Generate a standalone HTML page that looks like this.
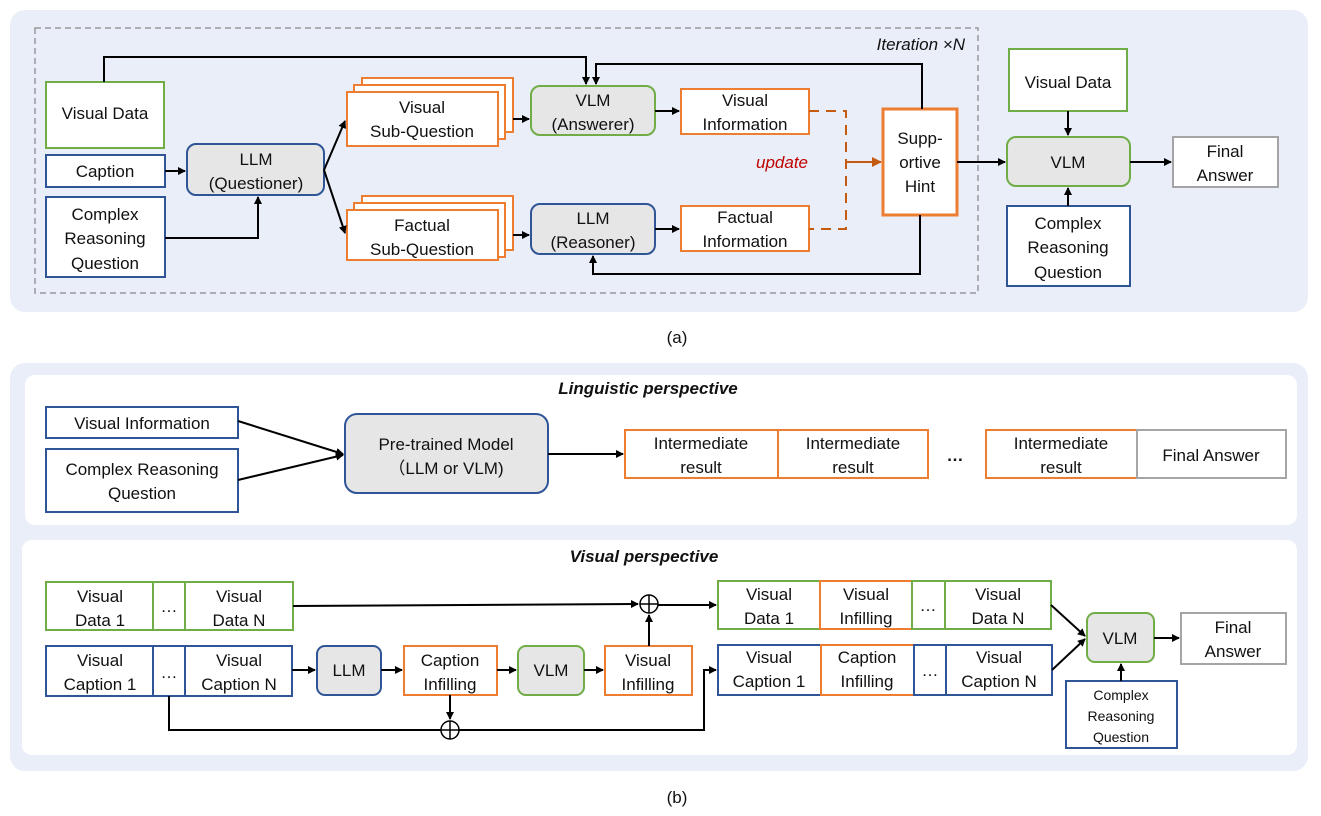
<!DOCTYPE html>
<html><head><meta charset="utf-8"><style>body{margin:0;background:#fff}svg{display:block}text{font-family:"Liberation Sans",Arial,sans-serif;font-size:17px;fill:#111;text-anchor:middle}</style></head><body>
<svg width="1321" height="816" viewBox="0 0 1321 816" xmlns="http://www.w3.org/2000/svg">
<defs><marker id="a" markerWidth="8" markerHeight="8" refX="7" refY="4" orient="auto" markerUnits="userSpaceOnUse"><path d="M0,0L8,4L0,8z" fill="#000"/></marker>
<marker id="o" markerWidth="10" markerHeight="10" refX="9" refY="5" orient="auto" markerUnits="userSpaceOnUse"><path d="M0,0L10,5L0,10z" fill="#c55a11"/></marker></defs>
<rect x="10" y="10" width="1298" height="302" rx="15" fill="#e9eef8"/>
<rect x="35" y="28" width="943" height="265" fill="none" stroke="#999" stroke-width="1.5" stroke-dasharray="6,4"/>
<text x="965" y="50" style="font-style:italic;text-anchor:end">Iteration ×N</text>
<g stroke-width="2" fill="#fff">
<rect x="46" y="82" width="118" height="66" stroke="#70ad47"/>
<rect x="46" y="155" width="119" height="32" stroke="#2f5597"/>
<rect x="46" y="197" width="119" height="80" stroke="#2f5597"/>
<rect x="187" y="144" width="137" height="51" rx="9" fill="#e7e6e6" stroke="#2f5597"/>
<rect x="362" y="78" width="151" height="54" stroke="#ed7d31"/>
<rect x="354" y="85" width="151" height="54" stroke="#ed7d31"/>
<rect x="347" y="92" width="151" height="54" stroke="#ed7d31"/>
<rect x="362" y="196" width="151" height="54" stroke="#ed7d31"/>
<rect x="354" y="203" width="151" height="54" stroke="#ed7d31"/>
<rect x="347" y="210" width="151" height="50" stroke="#ed7d31"/>
<rect x="531" y="86" width="124" height="49" rx="9" fill="#e7e6e6" stroke="#70ad47"/>
<rect x="531" y="204" width="124" height="50" rx="9" fill="#e7e6e6" stroke="#2f5597"/>
<rect x="681" y="89" width="128" height="45" stroke="#ed7d31"/>
<rect x="681" y="206" width="128" height="45" stroke="#ed7d31"/>
<rect x="883" y="109" width="74" height="106" stroke="#ed7d31" stroke-width="3"/>
<rect x="1009" y="49" width="118" height="62" stroke="#70ad47"/>
<rect x="1007" y="137" width="123" height="49" rx="9" fill="#e7e6e6" stroke="#70ad47"/>
<rect x="1007" y="206" width="123" height="80" stroke="#2f5597"/>
<rect x="1173" y="137" width="105" height="50" stroke="#a5a5a5"/>
</g>
<g fill="none" stroke="#000" stroke-width="2">
<path d="M104,82V57H586V84" marker-end="url(#a)"/>
<path d="M922,109V64H596V84" marker-end="url(#a)"/>
<path d="M920,215V274H593V256" marker-end="url(#a)"/>
<path d="M165,171H185" marker-end="url(#a)"/>
<path d="M165,238H258V197" marker-end="url(#a)"/>
<path d="M324,170L345,121" marker-end="url(#a)"/>
<path d="M324,170L345,233" marker-end="url(#a)"/>
<path d="M513,119H529" marker-end="url(#a)"/>
<path d="M513,235H529" marker-end="url(#a)"/>
<path d="M655,111H679" marker-end="url(#a)"/>
<path d="M655,229H679" marker-end="url(#a)"/>
<path d="M957,162H1005" marker-end="url(#a)"/>
<path d="M1068,111V135" marker-end="url(#a)"/>
<path d="M1068,206V188" marker-end="url(#a)"/>
<path d="M1130,162H1171" marker-end="url(#a)"/>
</g>
<path d="M809,111H846V229H809" fill="none" stroke="#c55a11" stroke-width="2" stroke-dasharray="10,7"/>
<path d="M846,162H881" stroke="#c55a11" stroke-width="2" marker-end="url(#o)"/>
<text x="808" y="168" style="fill:#c00000;font-style:italic;text-anchor:end">update</text>
<text x="105" y="119">Visual Data</text>
<text x="105" y="177">Caption</text>
<text x="105" y="220">Complex</text><text x="105" y="244">Reasoning</text><text x="105" y="269">Question</text>
<text x="256" y="165">LLM</text><text x="256" y="189">(Questioner)</text>
<text x="422" y="113">Visual</text><text x="422" y="137">Sub-Question</text>
<text x="422" y="231">Factual</text><text x="422" y="255">Sub-Question</text>
<text x="593" y="106">VLM</text><text x="593" y="130">(Answerer)</text>
<text x="593" y="224">LLM</text><text x="593" y="248">(Reasoner)</text>
<text x="745" y="106">Visual</text><text x="745" y="130">Information</text>
<text x="745" y="223">Factual</text><text x="745" y="247">Information</text>
<text x="920" y="144">Supp-</text><text x="920" y="168">ortive</text><text x="920" y="192">Hint</text>
<text x="1068" y="88">Visual Data</text>
<text x="1068" y="168">VLM</text>
<text x="1068" y="229">Complex</text><text x="1068" y="253">Reasoning</text><text x="1068" y="278">Question</text>
<text x="1225" y="157">Final</text><text x="1225" y="181">Answer</text>
<text x="677" y="343">(a)</text>

<rect x="10" y="363" width="1298" height="408" rx="15" fill="#e9eef8"/>
<rect x="25" y="375" width="1272" height="150" rx="10" fill="#fff"/>
<rect x="22" y="540" width="1275" height="215" rx="10" fill="#fff"/>
<text x="648" y="394" style="font-weight:bold;font-style:italic">Linguistic perspective</text>
<text x="644" y="562" style="font-weight:bold;font-style:italic">Visual perspective</text>
<g stroke-width="2" fill="#fff">
<rect x="46" y="407" width="192" height="31" stroke="#2f5597"/>
<rect x="46" y="449" width="192" height="63" stroke="#2f5597"/>
<rect x="345" y="414" width="203" height="79" rx="12" fill="#e7e6e6" stroke="#2f5597"/>
<rect x="625" y="430" width="153" height="48" stroke="#ed7d31"/>
<rect x="778" y="430" width="150" height="48" stroke="#ed7d31"/>
<rect x="986" y="430" width="151" height="48" stroke="#ed7d31"/>
<rect x="1137" y="430" width="149" height="48" stroke="#a5a5a5"/>
<rect x="46" y="582" width="107" height="48" stroke="#70ad47"/>
<rect x="153" y="582" width="32" height="48" stroke="#70ad47"/>
<rect x="185" y="582" width="108" height="48" stroke="#70ad47"/>
<rect x="46" y="646" width="107" height="50" stroke="#2f5597"/>
<rect x="153" y="646" width="32" height="50" stroke="#2f5597"/>
<rect x="185" y="646" width="107" height="50" stroke="#2f5597"/>
<rect x="317" y="646" width="64" height="49" rx="8" fill="#e7e6e6" stroke="#2f5597"/>
<rect x="404" y="646" width="93" height="49" stroke="#ed7d31"/>
<rect x="518" y="646" width="66" height="49" rx="8" fill="#e7e6e6" stroke="#70ad47"/>
<rect x="605" y="646" width="87" height="49" stroke="#ed7d31"/>
<rect x="718" y="581" width="102" height="48" stroke="#70ad47"/>
<rect x="820" y="581" width="92" height="48" stroke="#ed7d31"/>
<rect x="912" y="581" width="33" height="48" stroke="#70ad47"/>
<rect x="945" y="581" width="106" height="48" stroke="#70ad47"/>
<rect x="718" y="645" width="103" height="50" stroke="#2f5597"/>
<rect x="821" y="645" width="93" height="50" stroke="#ed7d31"/>
<rect x="914" y="645" width="32" height="50" stroke="#2f5597"/>
<rect x="946" y="645" width="106" height="50" stroke="#2f5597"/>
<rect x="1087" y="613" width="67" height="49" rx="8" fill="#e7e6e6" stroke="#70ad47"/>
<rect x="1181" y="613" width="105" height="51" stroke="#a5a5a5"/>
<rect x="1066" y="681" width="111" height="67" stroke="#2f5597"/>
</g>
<g fill="none" stroke="#000" stroke-width="2">
<path d="M238,421L343,454" marker-end="url(#a)"/>
<path d="M238,480L343,455" marker-end="url(#a)"/>
<path d="M548,454H623" marker-end="url(#a)"/>
<path d="M293,606L638,604" marker-end="url(#a)"/>
<path d="M658,605H716" marker-end="url(#a)"/>
<path d="M649,646V615" marker-end="url(#a)"/>
<path d="M292,670H315" marker-end="url(#a)"/>
<path d="M381,670H402" marker-end="url(#a)"/>
<path d="M497,670H516" marker-end="url(#a)"/>
<path d="M584,670H603" marker-end="url(#a)"/>
<path d="M450,695V719" marker-end="url(#a)"/>
<path d="M169,696V730H441"/>
<path d="M459,730H704V670H716" marker-end="url(#a)"/>
<path d="M1051,605L1085,636" marker-end="url(#a)"/>
<path d="M1052,670L1085,639" marker-end="url(#a)"/>
<path d="M1154,638H1179" marker-end="url(#a)"/>
<path d="M1121,681V664" marker-end="url(#a)"/>
<circle cx="649" cy="604" r="9" stroke-width="1.5"/>
<path d="M640,604H658M649,595V613" stroke-width="1.5"/>
<circle cx="450" cy="730" r="9" stroke-width="1.5"/>
<path d="M441,730H459M450,721V739" stroke-width="1.5"/>
</g>
<text x="142" y="429">Visual Information</text>
<text x="142" y="475">Complex Reasoning</text><text x="142" y="499">Question</text>
<text x="446" y="450">Pre-trained Model</text><text x="446" y="474">（LLM or VLM)</text>
<text x="701" y="449">Intermediate</text><text x="701" y="473">result</text>
<text x="853" y="449">Intermediate</text><text x="853" y="473">result</text>
<text x="955" y="461" style="font-weight:bold">…</text>
<text x="1061" y="449">Intermediate</text><text x="1061" y="473">result</text>
<text x="1211" y="461">Final Answer</text>
<text x="100" y="602">Visual</text><text x="100" y="626">Data 1</text>
<text x="169" y="612">…</text>
<text x="239" y="602">Visual</text><text x="239" y="626">Data N</text>
<text x="100" y="666">Visual</text><text x="100" y="690">Caption 1</text>
<text x="169" y="678">…</text>
<text x="239" y="666">Visual</text><text x="239" y="690">Caption N</text>
<text x="349" y="676">LLM</text>
<text x="450" y="666">Caption</text><text x="450" y="690">Infilling</text>
<text x="551" y="676">VLM</text>
<text x="648" y="666">Visual</text><text x="648" y="690">Infilling</text>
<text x="769" y="600">Visual</text><text x="769" y="624">Data 1</text>
<text x="866" y="600">Visual</text><text x="866" y="624">Infilling</text>
<text x="928" y="611">…</text>
<text x="998" y="600">Visual</text><text x="998" y="624">Data N</text>
<text x="769" y="663">Visual</text><text x="769" y="687">Caption 1</text>
<text x="867" y="663">Caption</text><text x="867" y="687">Infilling</text>
<text x="930" y="676">…</text>
<text x="999" y="663">Visual</text><text x="999" y="687">Caption N</text>
<text x="1120" y="644">VLM</text>
<text x="1233" y="633">Final</text><text x="1233" y="657">Answer</text>
<text x="1121" y="700" style="font-size:14px">Complex</text><text x="1121" y="721" style="font-size:14px">Reasoning</text><text x="1121" y="742" style="font-size:14px">Question</text>
<text x="677" y="803">(b)</text>
</svg>
</body></html>
